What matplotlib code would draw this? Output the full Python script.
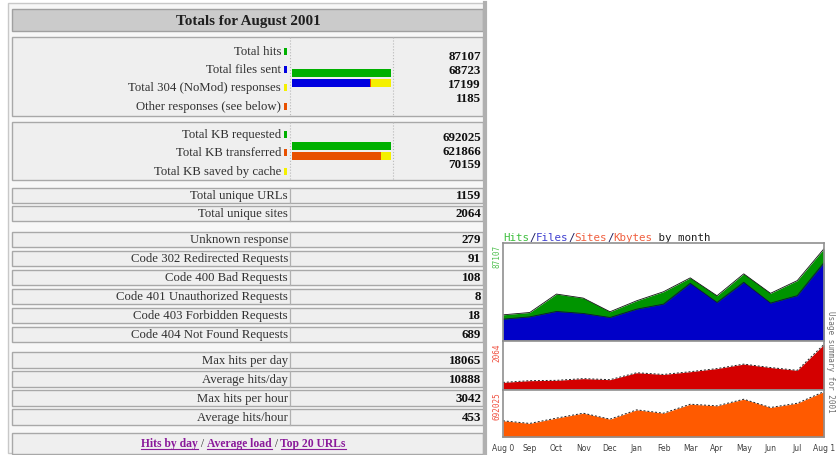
import matplotlib.pyplot as plt
from matplotlib.patches import Rectangle

# ---- data ----
title = 'Totals for August 2001'

hit_labels = ['Total hits', 'Total files sent', 'Total 304 (NoMod) responses',
              'Other responses (see below)']
hit_values = [87107, 68723, 17199, 1185]
hit_colors = ['#00b000', '#0000e0', '#f4f000', '#e85000']

kb_labels = ['Total KB requested', 'Total KB transferred', 'Total KB saved by cache']
kb_values = [692025, 621866, 70159]
kb_colors = ['#00b000', '#e85000', '#f4f000']

unique_labels = ['Total unique URLs', 'Total unique sites']
unique_values = [1159, 2064]

code_labels = ['Unknown response', 'Code 302 Redirected Requests', 'Code 400 Bad Requests',
               'Code 401 Unauthorized Requests', 'Code 403 Forbidden Requests',
               'Code 404 Not Found Requests']
code_values = [279, 91, 108, 8, 18, 689]

max_labels = ['Max hits per day', 'Average hits/day', 'Max hits per hour', 'Average hits/hour']
max_values = [18065, 10888, 3042, 453]

links = ['Hits by day', 'Average load', 'Top 20 URLs']

months = ['Aug 0', 'Sep', 'Oct', 'Nov', 'Dec', 'Jan', 'Feb', 'Mar', 'Apr', 'May', 'Jun', 'Jul', 'Aug 1']
month_hits = [24700, 26900, 44300, 40500, 27600, 38000, 46500, 59600, 42700, 63400, 45000, 57000, 87107]
month_files = [20600, 22800, 27900, 26000, 22200, 30100, 34800, 54500, 36400, 55400, 35800, 42800, 74000]
month_sites = [344, 422, 437, 515, 468, 781, 704, 828, 970, 1172, 1017, 890, 2064]
month_kbytes = [247000, 207000, 288000, 363000, 272000, 414000, 363000, 500000,
                475000, 576000, 450000, 515000, 692025]

W, H = 836, 456
fig = plt.figure(figsize=(W / 100, H / 100), dpi=100)
page = fig.add_axes([0, 0, 1, 1])
page.set_xlim(0, W)
page.set_ylim(H, 0)
page.axis('off')

SERIF = 'Liberation Serif'
CELL = '#efefef'
EDGE = '#a8a8a8'
LAB_FS = 9.2
VAL_FS = 9.4


def frac(x0, y0, x1, y1):
    return [x0 / W, 1 - y1 / H, (x1 - x0) / W, (y1 - y0) / H]


def box(x0, y0, x1, y1, fc=CELL, ec=EDGE, lw=1.0):
    page.add_patch(Rectangle((x0, y0), x1 - x0, y1 - y0, fc=fc, ec=ec, lw=lw))


def label(x, y, s):
    page.text(x, y, s, ha='right', va='center', fontsize=LAB_FS, family=SERIF, color='#303030')


def value(x, y, v):
    page.text(x, y, str(v), ha='right', va='center', fontsize=VAL_FS, family=SERIF,
              weight='bold', color='#101010')


# outer frame of the table
page.add_patch(Rectangle((8, 4), 477, 450, fc='#f7f7f7', ec='#c8c8c8', lw=1))
page.plot([485, 485], [4, 454], color='#b0b0b0', lw=3)

# header
box(12, 10, 483, 32, fc='#cbcbcb', ec='#a0a0a0')
page.text(248, 21, title, ha='center', va='center', fontsize=10.9, family=SERIF,
          weight='bold', color='#202020')


def group(y0, y1, labels, values, colors, lab_y, val_y, bar_y):
    box(12, y0, 483, y1)
    for xv in (290, 393):
        page.plot([xv, xv], [y0, y1], color='#b8b8b8', lw=0.8, ls=':')
    for s, c, ly in zip(labels, colors, lab_y):
        label(281, ly, s)
        page.add_patch(Rectangle((284, ly - 3.5), 3, 7, fc=c, ec='none'))
    for v, vy in zip(values, val_y):
        value(481, vy, v)
    bx = fig.add_axes(frac(292, bar_y, 391, bar_y + 20))
    bx.axis('off')
    bx.set_xlim(0, values[0])
    bx.set_ylim(1.5, -0.5)
    bx.barh(0, values[0], height=0.75, color=colors[0])
    return bx


bx1 = group(38, 117, hit_labels, hit_values, hit_colors,
            [52, 70, 88, 107], [57, 71, 85, 99], 69)
left = 0
for v, c in [(hit_values[1], hit_colors[1]), (hit_values[3], hit_colors[3]),
             (hit_values[2], hit_colors[2])]:
    bx1.barh(1, v, left=left, height=0.75, color=c)
    left += v

bx2 = group(123, 181, kb_labels, kb_values, kb_colors,
            [135, 153, 172], [138, 152, 165], 142)
bx2.barh(1, kb_values[1], height=0.75, color=kb_colors[1])
bx2.barh(1, kb_values[2], left=kb_values[1], height=0.75, color=kb_colors[2])


def rows(tops, labels, values, h=15):
    for t, s, v in zip(tops, labels, values):
        box(12, t, 483, t + h)
        page.plot([290, 290], [t, t + h], color='#b0b0b0', lw=0.9)
        label(288, t + h / 2, s)
        value(481, t + h / 2, v)


rows([189, 207], unique_labels, unique_values)
rows([233, 252, 271, 290, 309, 328], code_labels, code_values)
rows([353, 372, 391, 410], max_labels, max_values, h=16)

# footer with links, laid out left to right
box(12, 434, 483, 455)
fig.canvas.draw()
renderer = fig.canvas.get_renderer()
inv = page.transData.inverted()
x = 141
for i, s in enumerate(links):
    t = page.text(x, 444, s, ha='left', va='center', fontsize=8.4, family=SERIF,
                  weight='bold', color='#8a1a9a')
    bb = t.get_window_extent(renderer)
    (xa, ya), (xb, yb) = inv.transform([[bb.x0, bb.y0], [bb.x1, bb.y1]])
    page.plot([xa, xb], [ya - 0.3, ya - 0.3], color='#8a1a9a', lw=0.8)
    x = xb
    if i < len(links) - 1:
        sep = page.text(x, 444, ' / ', ha='left', va='center', fontsize=8.4,
                        family=SERIF, color='#303030')
        bb = sep.get_window_extent(renderer)
        x = inv.transform([[bb.x1, bb.y1]])[0][0]

# ---- monthly usage graph ----
X0, X1 = 503, 824
panels = [(244, 342), (342, 391), (391, 438)]
xi = list(range(len(months)))
axes = []
for (y0, y1) in panels:
    a = fig.add_axes(frac(X0, y0, X1, y1))
    a.set_xlim(0, len(months) - 1)
    a.set_xticks([])
    a.set_yticks([])
    for sp in a.spines.values():
        sp.set_color('#909090')
        sp.set_linewidth(1.2)
    axes.append(a)

a_top, a_mid, a_bot = axes
a_top.set_ylim(0, 92500)
a_top.fill_between(xi, month_hits, color='#009400', lw=0)
a_top.plot(xi, month_hits, color='#101010', lw=0.6)
a_top.fill_between(xi, month_files, color='#0000c8', lw=0)
a_top.plot(xi, month_files, color='#101040', lw=0.6)

a_mid.set_ylim(0, 2220)
a_mid.fill_between(xi, month_sites, color='#d40000', lw=0)
a_mid.plot(xi, month_sites, color='#202020', lw=0.7, ls=(0, (2, 2)))

a_bot.set_ylim(0, 717000)
a_bot.fill_between(xi, month_kbytes, color='#ff5a00', lw=0)
a_bot.plot(xi, month_kbytes, color='#202020', lw=0.7, ls=(0, (2, 2)))
a_bot.set_xticks(xi)
a_bot.set_xticklabels(months, fontsize=5.5, color='#404040', family='DejaVu Sans')
a_bot.tick_params(axis='x', length=0, pad=4)

# graph title in coloured monospace pieces
cw = 6.5
parts = [('Hits', '#40c040'), ('/', '#202060'), ('Files', '#4040d0'), ('/', '#202060'),
         ('Sites', '#f06040'), ('/', '#202060'), ('Kbytes', '#f06040'),
         (' by month', '#202020')]
n = 0
for s, c in parts:
    page.text(503 + n * cw, 238, s, ha='left', va='center', fontsize=7.8,
              family='DejaVu Sans Mono', color=c)
    n += len(s)

page.text(497, 256, str(max(month_hits)), rotation=90, ha='center', va='center',
          fontsize=5.5, color='#50c050', family='DejaVu Sans Mono')
page.text(497, 353, str(max(month_sites)), rotation=90, ha='center', va='center',
          fontsize=5.5, color='#f05040', family='DejaVu Sans Mono')
page.text(497, 406, str(max(month_kbytes)), rotation=90, ha='center', va='center',
          fontsize=5.5, color='#f05040', family='DejaVu Sans Mono')
page.text(831, 362, 'Usage summary for 2001', rotation=270, ha='center', va='center',
          fontsize=5.5, color='#707070', family='DejaVu Sans Mono')

fig.savefig('out.png', dpi=100)
